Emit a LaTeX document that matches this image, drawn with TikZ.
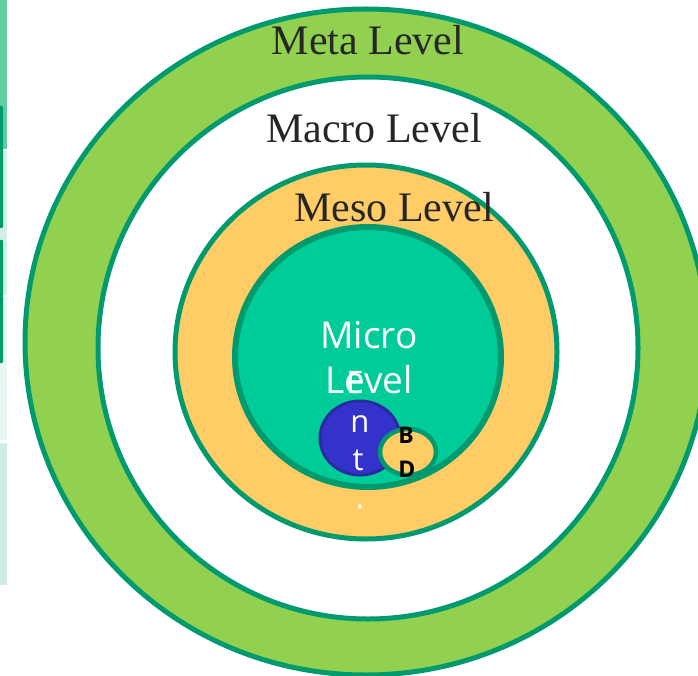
\documentclass[tikz,border=0pt]{standalone}
\usepackage{fontspec}
\setmainfont{Liberation Serif}
\newfontfamily\opensans{Open Sans}
\usetikzlibrary{shapes.geometric}
\definecolor{ringgreen}{HTML}{92D050}
\definecolor{edgegreen}{HTML}{009A6E}
\definecolor{mesoorange}{HTML}{FFCC66}
\definecolor{microteal}{HTML}{00CC99}
\definecolor{entblue}{HTML}{3333CC}
\definecolor{entedge}{HTML}{2A2AA0}
\definecolor{labelgray}{HTML}{262626}
\definecolor{stripa}{HTML}{62CDA0}
\definecolor{stripb}{HTML}{D3F0E4}
\definecolor{stripc}{HTML}{E8F7F0}
\definecolor{stripd}{HTML}{CDEEE0}
\begin{document}
\begin{tikzpicture}[x=1pt,y=-1pt,
  ring/.style={ellipse, draw=edgegreen, inner sep=0pt, outer sep=0pt},
  levellabel/.style={anchor=base, font=\fontsize{42}{50}\selectfont, text=labelgray, inner sep=0pt},
  microlabel/.style={anchor=base, font=\opensans\fontsize{37}{44}\selectfont, text=white, inner sep=0pt},
  entlabel/.style={anchor=base, font=\opensans\fontsize{31}{36}\selectfont, text=white, inner sep=0pt},
  bdlabel/.style={anchor=base, font=\opensans\bfseries\fontsize{23}{28}\selectfont, text=black, inner sep=0pt}]
\useasboundingbox (0,0) rectangle (698,676);
\fill[white] (0,0) rectangle (698,676);
% left strip
\fill[stripa] (0,0) rectangle (7,149);
\fill[stripb] (0,151) rectangle (7,295);
\fill[stripc] (0,297) rectangle (7,440);
\fill[stripd] (0,443) rectangle (7,585);
\fill[edgegreen, rounded corners=1pt] (-2,106) rectangle (3,228);
\fill[edgegreen, rounded corners=1pt] (-2,240) rectangle (3,363);
% rings
\node[ring, fill=ringgreen, line width=5pt, minimum width=682pt, minimum height=666pt] (meta) at (366,342) {};
\node[ring, fill=white, line width=5pt, minimum width=540pt, minimum height=542pt] (macro) at (368,348) {};
\node[ring, fill=mesoorange, line width=5pt, minimum width=382pt, minimum height=374pt] (meso) at (366,352) {};
\node[ring, fill=microteal, line width=6pt, minimum width=266pt, minimum height=260pt] (micro) at (368,357) {};
% labels
\node[levellabel] (metatext) at (368,55) {Meta Level};
\node[levellabel] (macrotext) at (374,143) {Macro Level};
\node[levellabel] (mesotext) at (394,222) {Meso Level};
\node[microlabel] (microtext1) at (369,348) {Micro};
\node[microlabel] (microtext2) at (369,393) {Level};
% entity circles
\node[ellipse, draw=entedge, fill=entblue, line width=3pt, inner sep=0pt, minimum width=80pt, minimum height=74pt] (ent) at (360,438) {};
\node[entlabel] (entE) at (355,393) {E};
\node[entlabel] (entn) at (360,432) {n};
\node[entlabel] (entt) at (358,470) {t};
\node[entlabel] (entdot) at (360,508) {.};
\node[ring, fill=mesoorange, line width=4.5pt, minimum width=56pt, minimum height=46pt] (bd) at (408,452) {};
\node[bdlabel] (bdB) at (406,443) {B};
\node[bdlabel] (bdD) at (407,477) {D};
\end{tikzpicture}
\end{document}
